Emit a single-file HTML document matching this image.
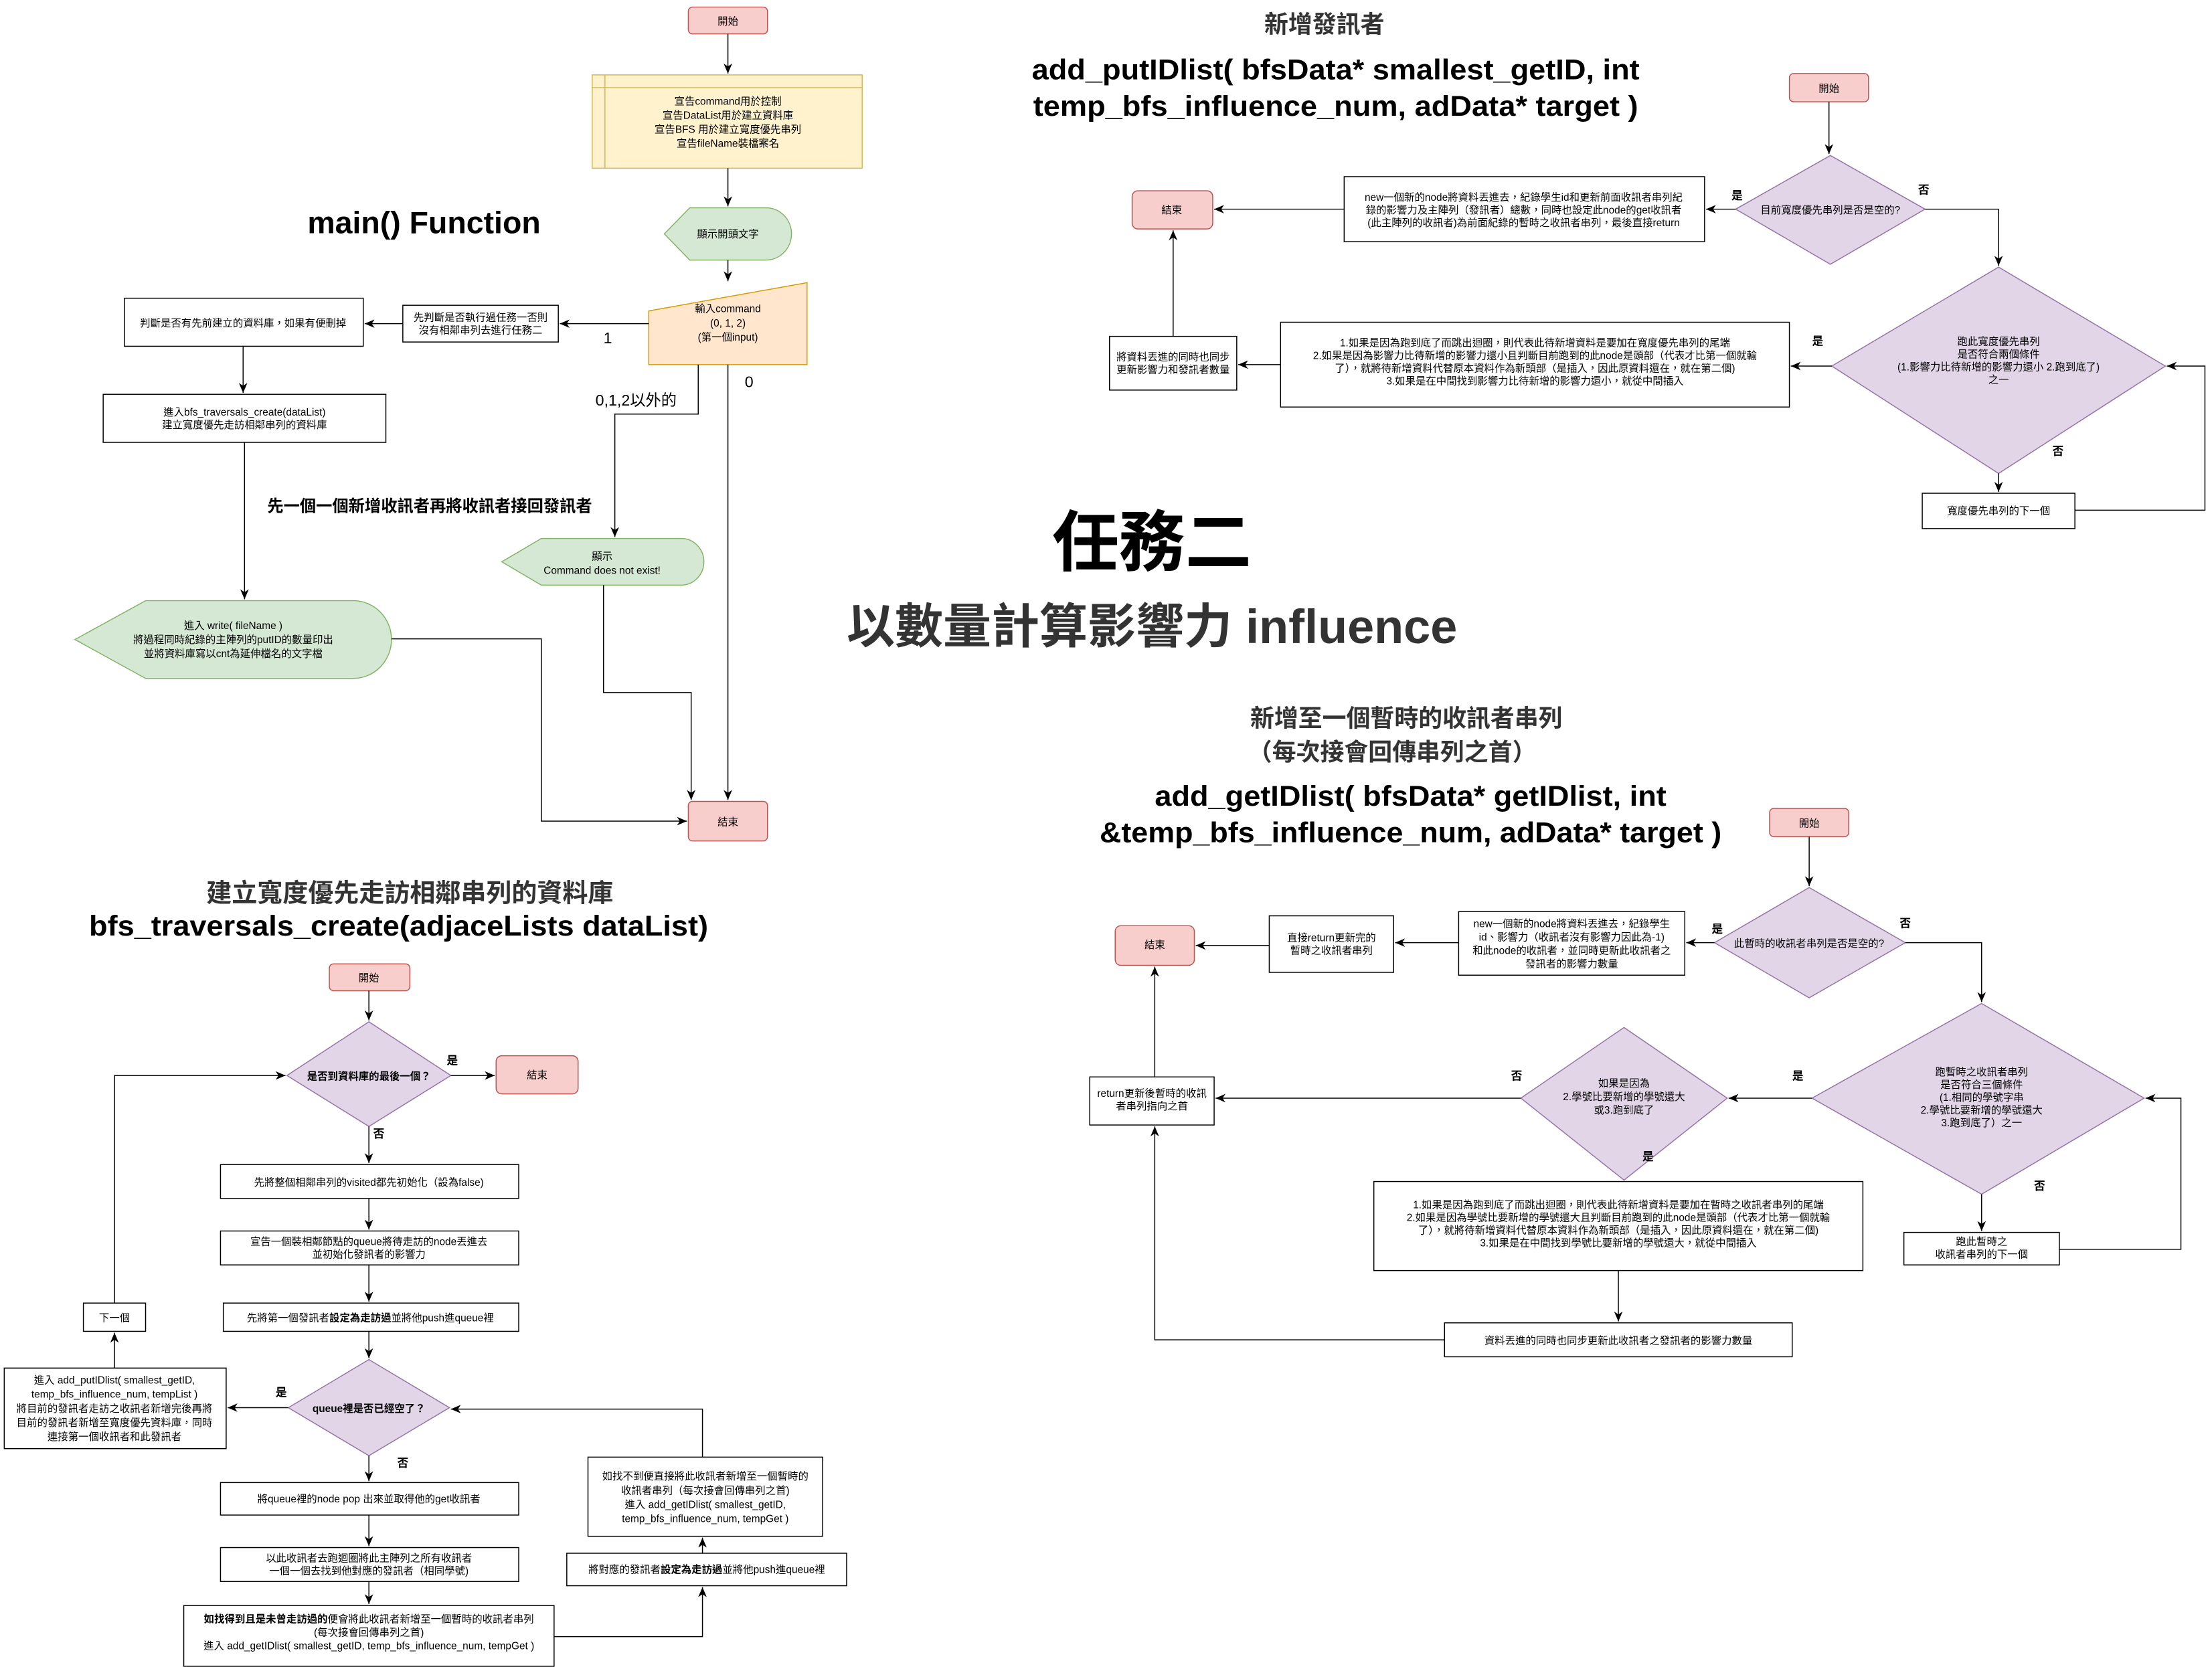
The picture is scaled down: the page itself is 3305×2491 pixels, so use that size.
<!DOCTYPE html>
<html><head><meta charset="utf-8"><style>
html,body{margin:0;padding:0;background:#fff;}
svg{display:block;}
text{font-family:"Liberation Sans","Noto Sans CJK TC",sans-serif;fill:#000;}
.t{font-size:7.3px;text-anchor:middle;}
.b{font-weight:bold;}
.l{font-size:8px;font-weight:bold;text-anchor:middle;}
.ln{fill:none;stroke:#000;stroke-width:0.7;}
.w{fill:#fff;stroke:#000;stroke-width:0.7;}
.pk{fill:#f8cecc;stroke:#b85450;stroke-width:0.7;}
.pu{fill:#e1d5e7;stroke:#9673a6;stroke-width:0.7;}
.gr{fill:#d5e8d4;stroke:#82b366;stroke-width:0.7;}
</style></head><body>
<svg width="3305" height="2491" viewBox="0 0 1565 1179.5" preserveAspectRatio="none" xmlns="http://www.w3.org/2000/svg">
<defs><marker id="a" markerWidth="8" markerHeight="8" refX="7" refY="4" orient="auto" markerUnits="userSpaceOnUse"><path d="M0,1 L7,4 L0,7 L2,4 Z" fill="#000"/></marker></defs>

<!-- ===== main() ===== -->
<rect class="pk" x="487" y="5" width="56" height="19" rx="3"/>
<text class="t" x="515" y="17.5">開始</text>
<path class="ln" d="M515,24 V52" marker-end="url(#a)"/>
<rect x="419" y="53" width="191" height="66" fill="#fff2cc" stroke="#d6b656" stroke-width="0.7"/>
<path d="M428,53 V119 M419,62 H610" stroke="#d6b656" stroke-width="0.7" fill="none"/>
<text class="t" x="515" y="74">宣告command用於控制<tspan x="515" dy="10">宣告DataList用於建立資料庫</tspan><tspan x="515" dy="10">宣告BFS 用於建立寬度優先串列</tspan><tspan x="515" dy="10">宣告fileName裝檔案名</tspan></text>
<path class="ln" d="M515,119 V146" marker-end="url(#a)"/>
<path class="gr" d="M470,165.5 L488,147 L542,147 A18,18.5 0 0 1 542,184 L488,184 Z"/>
<text class="t" x="515" y="168">顯示開頭文字</text>
<path class="ln" d="M515,184 V199" marker-end="url(#a)"/>
<path d="M459,220 L571,200 L571,258 L459,258 Z" fill="#ffe6cc" stroke="#d79b00" stroke-width="0.7"/>
<text class="t" x="515" y="221">輸入command<tspan x="515" dy="10">(0, 1, 2)</tspan><tspan x="515" dy="10">(第一個input)</tspan></text>
<text x="300" y="165" class="b" font-size="22" text-anchor="middle">main() Function</text>
<path class="ln" d="M459,229 H396" marker-end="url(#a)"/>
<rect class="w" x="285" y="216" width="110" height="26"/>
<text class="t" x="340" y="227">先判斷是否執行過任務一否則<tspan x="340" dy="9">沒有相鄰串列去進行任務二</tspan></text>
<text x="430" y="243" font-size="11" text-anchor="middle">1</text>
<path class="ln" d="M285,229 H258" marker-end="url(#a)"/>
<rect class="w" x="88" y="211" width="169" height="34"/>
<text class="t" x="172" y="231">判斷是否有先前建立的資料庫，如果有便刪掉</text>
<path class="ln" d="M172,245 V278" marker-end="url(#a)"/>
<rect class="w" x="73" y="279" width="200" height="34"/>
<text class="t" x="173" y="294">進入bfs_traversals_create(dataList)<tspan x="173" dy="9">建立寬度優先走訪相鄰串列的資料庫</tspan></text>
<path class="ln" d="M173,313 V424" marker-end="url(#a)"/>
<text x="530" y="274" font-size="11" text-anchor="middle">0</text>
<text x="450" y="287" font-size="11" text-anchor="middle">0,1,2以外的</text>
<path class="ln" d="M494,258 V293 H435 V380" marker-end="url(#a)"/>
<text x="304" y="362" class="b" font-size="11.5" text-anchor="middle">先一個一個新增收訊者再將收訊者接回發訊者</text>
<path class="gr" d="M355,397.5 L383,381 L482,381 A16,16.5 0 0 1 482,414 L383,414 Z"/>
<text class="t" x="426" y="396">顯示<tspan x="426" dy="10">Command does not exist!</tspan></text>
<path class="gr" d="M53,452.5 L103,425 L250,425 A27,27.5 0 0 1 250,480 L103,480 Z"/>
<text class="t" x="165" y="445">進入 write( fileName )<tspan x="165" dy="10">將過程同時紀錄的主陣列的putID的數量印出</tspan><tspan x="165" dy="10">並將資料庫寫以cnt為延伸檔名的文字檔</tspan></text>
<path class="ln" d="M277,452 H383 V581 H486" marker-end="url(#a)"/>
<path class="ln" d="M427,414 V490 H489 V566" marker-end="url(#a)"/>
<path class="ln" d="M515,258 V566" marker-end="url(#a)"/>
<rect class="pk" x="487" y="567" width="56" height="28" rx="3"/>
<text class="t" x="515" y="584">結束</text>

<!-- ===== center titles ===== -->
<text x="815" y="400" class="b" font-size="47" text-anchor="middle">任務二</text>
<text x="815" y="455" class="b" font-size="34" text-anchor="middle" style="fill:#333" textLength="432" lengthAdjust="spacingAndGlyphs">以數量計算影響力 influence</text>

<!-- ===== add_putIDlist ===== -->
<text x="937" y="23" class="b" font-size="17" text-anchor="middle" style="fill:#333">新增發訊者</text>
<text x="945" y="56" class="b" font-size="20" text-anchor="middle" textLength="430" lengthAdjust="spacingAndGlyphs">add_putIDlist( bfsData* smallest_getID, int</text>
<text x="945" y="82" class="b" font-size="20" text-anchor="middle" textLength="428" lengthAdjust="spacingAndGlyphs">temp_bfs_influence_num, adData* target )</text>
<rect class="pk" x="1266" y="52" width="56" height="20" rx="3"/>
<text class="t" x="1294" y="65">開始</text>
<path class="ln" d="M1294,72 V109" marker-end="url(#a)"/>
<path class="pu" d="M1295,110 L1362,148 L1295,187 L1228,148 Z"/>
<text class="t" x="1295" y="151">目前寬度優先串列是否是空的?</text>
<text class="l" x="1229" y="141">是</text>
<text class="l" x="1361" y="137">否</text>
<path class="ln" d="M1228,148 H1207" marker-end="url(#a)"/>
<rect class="w" x="951" y="125" width="255" height="46"/>
<text class="t" x="1078" y="142">new一個新的node將資料丟進去，紀錄學生id和更新前面收訊者串列紀<tspan x="1078" dy="9">錄的影響力及主陣列（發訊者）總數，同時也設定此node的get收訊者</tspan><tspan x="1078" dy="9">(此主陣列的收訊者)為前面紀錄的暫時之收訊者串列，最後直接return</tspan></text>
<path class="ln" d="M951,148 H859" marker-end="url(#a)"/>
<rect class="pk" x="801" y="135" width="57" height="27" rx="4"/>
<text class="t" x="829" y="151">結束</text>
<path class="ln" d="M1362,148 H1414 V188" marker-end="url(#a)"/>
<path class="pu" d="M1414,189 L1532,259 L1414,335 L1296,259 Z"/>
<text class="t" x="1414" y="244">跑此寬度優先串列<tspan x="1414" dy="9">是否符合兩個條件</tspan><tspan x="1414" dy="9">(1.影響力比待新增的影響力還小 2.跑到底了)</tspan><tspan x="1414" dy="9">之一</tspan></text>
<text class="l" x="1286" y="244">是</text>
<text class="l" x="1456" y="322">否</text>
<path class="ln" d="M1296,259 H1267" marker-end="url(#a)"/>
<rect class="w" x="906" y="228" width="360" height="60"/>
<text class="t" x="1086" y="245">1.如果是因為跑到底了而跳出迴圈，則代表此待新增資料是要加在寬度優先串列的尾端<tspan x="1086" dy="9">2.如果是因為影響力比待新增的影響力還小且判斷目前跑到的此node是頭部（代表才比第一個就輸</tspan><tspan x="1086" dy="9">了），就將待新增資料代替原本資料作為新頭部（是插入，因此原資料還在，就在第二個)</tspan><tspan x="1086" dy="9">3.如果是在中間找到影響力比待新增的影響力還小，就從中間插入</tspan></text>
<path class="ln" d="M906,258 H876" marker-end="url(#a)"/>
<rect class="w" x="785" y="238" width="90" height="38"/>
<text class="t" x="830" y="255">將資料丟進的同時也同步<tspan x="830" dy="9">更新影響力和發訊者數量</tspan></text>
<path class="ln" d="M830,238 V163" marker-end="url(#a)"/>
<path class="ln" d="M1414,335 V348" marker-end="url(#a)"/>
<rect class="w" x="1360" y="349" width="108" height="25"/>
<text class="t" x="1414" y="364">寬度優先串列的下一個</text>
<path class="ln" d="M1468,361 H1560 V259 H1533" marker-end="url(#a)"/>

<!-- ===== add_getIDlist ===== -->
<text x="995" y="514" class="b" font-size="17" text-anchor="middle" style="fill:#333">新增至一個暫時的收訊者串列</text>
<text x="985" y="538" class="b" font-size="17" text-anchor="middle" style="fill:#333">（每次接會回傳串列之首）</text>
<text x="998" y="570" class="b" font-size="20" text-anchor="middle" textLength="362" lengthAdjust="spacingAndGlyphs">add_getIDlist( bfsData* getIDlist, int</text>
<text x="998" y="596" class="b" font-size="20" text-anchor="middle" textLength="440" lengthAdjust="spacingAndGlyphs">&amp;temp_bfs_influence_num, adData* target )</text>
<rect class="pk" x="1252" y="572" width="56" height="20" rx="3"/>
<text class="t" x="1280" y="585">開始</text>
<path class="ln" d="M1280,592 V627" marker-end="url(#a)"/>
<path class="pu" d="M1280,628 L1348,667 L1280,706 L1213,667 Z"/>
<text class="t" x="1280" y="670">此暫時的收訊者串列是否是空的?</text>
<text class="l" x="1215" y="660">是</text>
<text class="l" x="1348" y="656">否</text>
<path class="ln" d="M1213,667 H1193" marker-end="url(#a)"/>
<rect class="w" x="1032" y="645" width="160" height="45"/>
<text class="t" x="1112" y="656">new一個新的node將資料丟進去，紀錄學生<tspan x="1112" dy="9.5">id、影響力（收訊者沒有影響力因此為-1)</tspan><tspan x="1112" dy="9.5">和此node的收訊者，並同時更新此收訊者之</tspan><tspan x="1112" dy="9.5">發訊者的影響力數量</tspan></text>
<path class="ln" d="M1032,667 H987" marker-end="url(#a)"/>
<rect class="w" x="898" y="648" width="88" height="40"/>
<text class="t" x="942" y="666">直接return更新完的<tspan x="942" dy="9">暫時之收訊者串列</tspan></text>
<path class="ln" d="M898,669 H846" marker-end="url(#a)"/>
<rect class="pk" x="789" y="655" width="56" height="28" rx="4"/>
<text class="t" x="817" y="671">結束</text>
<path class="ln" d="M1348,667 H1402 V709" marker-end="url(#a)"/>
<path class="pu" d="M1402,710 L1517,777 L1402,845 L1282,777 Z"/>
<text class="t" x="1402" y="761">跑暫時之收訊者串列<tspan x="1402" dy="9">是否符合三個條件</tspan><tspan x="1402" dy="9">(1.相同的學號字串</tspan><tspan x="1402" dy="9">2.學號比要新增的學號還大</tspan><tspan x="1402" dy="9">3.跑到底了）之一</tspan></text>
<text class="l" x="1272" y="764">是</text>
<text class="l" x="1443" y="842">否</text>
<path class="ln" d="M1282,777 H1223" marker-end="url(#a)"/>
<path class="pu" d="M1149,727 L1222,777 L1149,835 L1076,777 Z"/>
<text class="t" x="1149" y="769">如果是因為<tspan x="1149" dy="9.5">2.學號比要新增的學號還大</tspan><tspan x="1149" dy="9.5">或3.跑到底了</tspan></text>
<text class="l" x="1073" y="764">否</text>
<text class="l" x="1166" y="821">是</text>
<path class="ln" d="M1076,777 H860" marker-end="url(#a)"/>
<rect class="w" x="771" y="762" width="88" height="34"/>
<text class="t" x="815" y="776">return更新後暫時的收訊<tspan x="815" dy="9">者串列指向之首</tspan></text>
<path class="ln" d="M817,762 V684" marker-end="url(#a)"/>
<rect class="w" x="972" y="836" width="346" height="63"/>
<text class="t" x="1145" y="855">1.如果是因為跑到底了而跳出迴圈，則代表此待新增資料是要加在暫時之收訊者串列的尾端<tspan x="1145" dy="9">2.如果是因為學號比要新增的學號還大且判斷目前跑到的此node是頭部（代表才比第一個就輸</tspan><tspan x="1145" dy="9">了），就將待新增資料代替原本資料作為新頭部（是插入，因此原資料還在，就在第二個)</tspan><tspan x="1145" dy="9">3.如果是在中間找到學號比要新增的學號還大，就從中間插入</tspan></text>
<path class="ln" d="M1145,899 V935" marker-end="url(#a)"/>
<rect class="w" x="1022" y="936" width="246" height="24"/>
<text class="t" x="1145" y="951">資料丟進的同時也同步更新此收訊者之發訊者的影響力數量</text>
<path class="ln" d="M1022,948 H817 V797" marker-end="url(#a)"/>
<path class="ln" d="M1402,845 V871" marker-end="url(#a)"/>
<rect class="w" x="1347" y="872" width="110" height="23"/>
<text class="t" x="1402" y="881">跑此暫時之<tspan x="1402" dy="9">收訊者串列的下一個</tspan></text>
<path class="ln" d="M1457,884 H1543 V777 H1518" marker-end="url(#a)"/>

<!-- ===== bfs_traversals_create ===== -->
<text x="290" y="638" class="b" font-size="18" text-anchor="middle" style="fill:#333">建立寬度優先走訪相鄰串列的資料庫</text>
<text x="282" y="662" class="b" font-size="20" text-anchor="middle" textLength="438" lengthAdjust="spacingAndGlyphs">bfs_traversals_create(adjaceLists dataList)</text>
<rect class="pk" x="233" y="682" width="57" height="19" rx="3"/>
<text class="t" x="261" y="694.5">開始</text>
<path class="ln" d="M261,701 V722" marker-end="url(#a)"/>
<path class="pu" d="M261,723 L319,761 L261,797 L203,761 Z"/>
<text class="t b" x="261" y="764">是否到資料庫的最後一個？</text>
<text class="l" x="320" y="753">是</text>
<text class="l" x="268" y="805">否</text>
<path class="ln" d="M319,761 H350" marker-end="url(#a)"/>
<rect class="pk" x="351" y="747" width="58" height="27" rx="4"/>
<text class="t" x="380" y="763">結束</text>
<path class="ln" d="M261,797 V823" marker-end="url(#a)"/>
<rect class="w" x="156" y="824" width="211" height="24"/>
<text class="t" x="261" y="839">先將整個相鄰串列的visited都先初始化（設為false)</text>
<path class="ln" d="M261,848 V870" marker-end="url(#a)"/>
<rect class="w" x="156" y="871" width="211" height="24"/>
<text class="t" x="261" y="881">宣告一個裝相鄰節點的queue將待走訪的node丟進去<tspan x="261" dy="9">並初始化發訊者的影響力</tspan></text>
<path class="ln" d="M261,895 V921" marker-end="url(#a)"/>
<rect class="w" x="158" y="922" width="209" height="20"/>
<text class="t" x="262" y="935">先將第一個發訊者<tspan font-weight="bold">設定為走訪過</tspan>並將他push進queue裡</text>
<path class="ln" d="M261,942 V961" marker-end="url(#a)"/>
<path class="pu" d="M261,962 L318,996 L261,1030 L204,996 Z"/>
<text class="t b" x="261" y="999">queue裡是否已經空了？</text>
<text class="l" x="199" y="988">是</text>
<text class="l" x="285" y="1038">否</text>
<path class="ln" d="M204,996 H161" marker-end="url(#a)"/>
<rect class="w" x="3" y="968" width="157" height="57"/>
<text class="t" x="81" y="979">進入 add_putIDlist( smallest_getID,<tspan x="81" dy="10">temp_bfs_influence_num, tempList )</tspan><tspan x="81" dy="10">將目前的發訊者走訪之收訊者新增完後再將</tspan><tspan x="81" dy="10">目前的發訊者新增至寬度優先資料庫，同時</tspan><tspan x="81" dy="10">連接第一個收訊者和此發訊者</tspan></text>
<path class="ln" d="M81,968 V943" marker-end="url(#a)"/>
<rect class="w" x="59" y="922" width="44" height="20"/>
<text class="t" x="81" y="935">下一個</text>
<path class="ln" d="M81,922 V761 H202" marker-end="url(#a)"/>
<path class="ln" d="M261,1030 V1048" marker-end="url(#a)"/>
<rect class="w" x="156" y="1049" width="211" height="23"/>
<text class="t" x="261" y="1063">將queue裡的node pop 出來並取得他的get收訊者</text>
<path class="ln" d="M261,1072 V1094" marker-end="url(#a)"/>
<rect class="w" x="156" y="1095" width="211" height="24"/>
<text class="t" x="261" y="1105">以此收訊者去跑迴圈將此主陣列之所有收訊者<tspan x="261" dy="9">一個一個去找到他對應的發訊者（相同學號)</tspan></text>
<path class="ln" d="M261,1119 V1135" marker-end="url(#a)"/>
<rect class="w" x="130" y="1136" width="262" height="43"/>
<text class="t" x="261" y="1148"><tspan font-weight="bold">如找得到且是未曾走訪過的</tspan>便會將此收訊者新增至一個暫時的收訊者串列<tspan x="261" dy="9.5">(每次接會回傳串列之首)</tspan><tspan x="261" dy="9.5">進入 add_getIDlist( smallest_getID, temp_bfs_influence_num, tempGet )</tspan></text>
<path class="ln" d="M392,1158 H497 V1123" marker-end="url(#a)"/>
<rect class="w" x="401" y="1099" width="198" height="23"/>
<text class="t" x="500" y="1113">將對應的發訊者<tspan font-weight="bold">設定為走訪過</tspan>並將他push進queue裡</text>
<path class="ln" d="M497,1099 V1088" marker-end="url(#a)"/>
<rect class="w" x="416" y="1031" width="166" height="56"/>
<text class="t" x="499" y="1047">如找不到便直接將此收訊者新增至一個暫時的<tspan x="499" dy="10">收訊者串列（每次接會回傳串列之首)</tspan><tspan x="499" dy="10">進入 add_getIDlist( smallest_getID,</tspan><tspan x="499" dy="10">temp_bfs_influence_num, tempGet )</tspan></text>
<path class="ln" d="M497,1031 V997 H319" marker-end="url(#a)"/>
</svg>
</body></html>
